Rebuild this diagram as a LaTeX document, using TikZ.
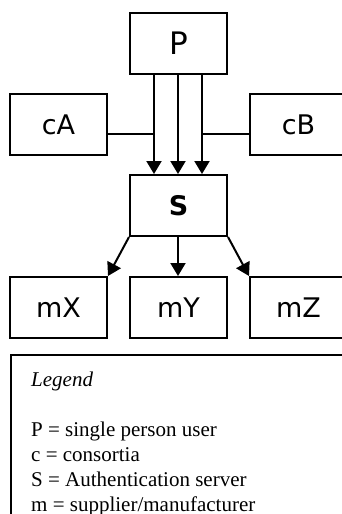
\documentclass[tikz,border=0pt]{standalone}
\usepackage{fontspec}
\setmainfont{Liberation Serif}
\newfontfamily\boxfont{DejaVu Sans}
\usetikzlibrary{arrows.meta}
\begin{document}
\begin{tikzpicture}[x=1pt,y=-1pt,
  entity/.style={draw,line width=2pt,minimum width=97pt,minimum height=61pt,
    inner sep=0pt,font=\boxfont\fontsize{27}{30}\selectfont},
  flow/.style={line width=2pt,-{Triangle[length=13pt,width=15pt]}},
  link/.style={line width=2pt},
  legline/.style={anchor=base west,inner sep=0pt,font=\fontsize{21}{24}\selectfont}]
\useasboundingbox (0,0) rectangle (342,514);
\clip (0,0) rectangle (342,514);

% participants
\node[entity,font=\boxfont\fontsize{31}{34}\selectfont] (P) at (178.5,43.5) {P};
\node[entity] (cA) at (58.5,124.5)  {cA};
\node[entity] (cB) at (298.5,124.5) {cB};
\node[entity,font=\boxfont\bfseries\fontsize{27}{30}\selectfont] (S) at (178.5,205.5) {S};
\node[entity] (mX) at (58.5,307.5)  {mX};
\node[entity] (mY) at (178.5,307.5) {mY};
\node[entity] (mZ) at (298.5,307.5) {mZ};

% three request paths from P to S
\coordinate (pl) at ([xshift=-24.5pt]P.south);
\coordinate (pr) at ([xshift=23.5pt]P.south);
\coordinate (jl) at (pl |- cA.east);
\coordinate (jr) at (pr |- cB.west);
\draw[flow] (pl) -- (pl |- S.north);
\draw[flow] ([xshift=-0.5pt]P.south) -- ([xshift=-0.5pt]S.north);
\draw[flow] (pr) -- (pr |- S.north);

% consortia join the outer paths
\draw[link] ([yshift=-9.5pt]cA.east) -- ([yshift=-9.5pt]jl);
\draw[link] ([yshift=-9.5pt]cB.west) -- ([yshift=-9.5pt]jr);

% server fans out to the suppliers
\draw[flow] (S.south west) -- (mX.north east);
\draw[flow] ([xshift=-0.5pt]S.south) -- ([xshift=-0.5pt]mY.north);
\draw[flow] (S.south east) -- (mZ.north west);

% legend
\node[draw,line width=2pt,minimum width=400pt,minimum height=250pt,anchor=north west] (legend) at (10,354) {};
\node[legline,font=\itshape\fontsize{21}{24}\selectfont] (leg0) at (31,386) {Legend};
\node[legline] (leg1) at (31,436) {P = single person user};
\node[legline] (leg2) at (31,461) {c = consortia};
\node[legline] (leg3) at (31,486) {S = Authentication server};
\node[legline] (leg4) at (31,511) {m = supplier/manufacturer};
\end{tikzpicture}
\end{document}
